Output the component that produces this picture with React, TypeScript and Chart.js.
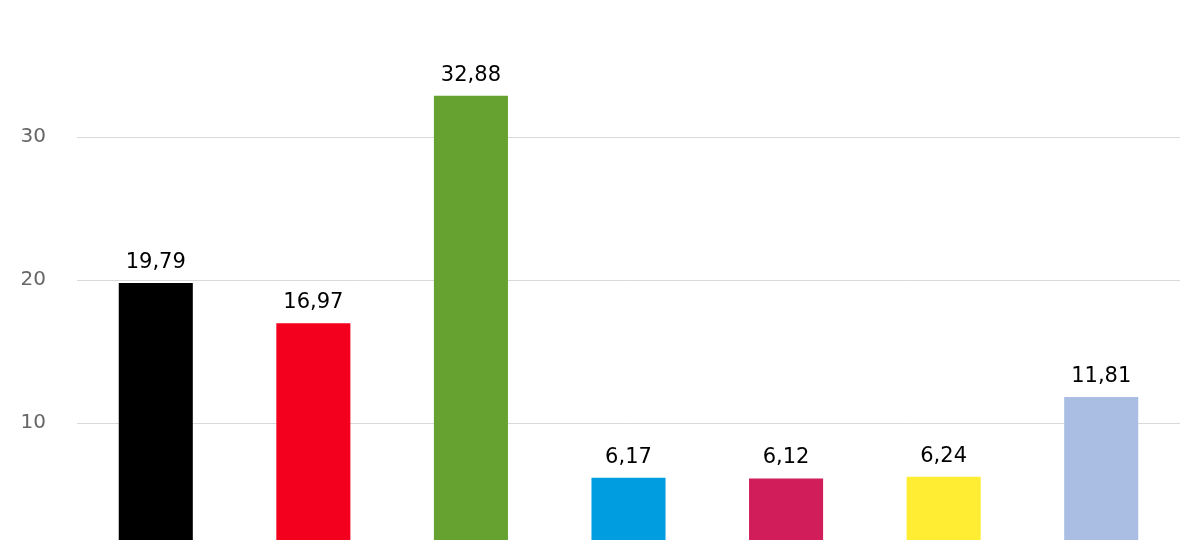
import React, { useEffect, useRef } from "react";
import { Chart, registerables } from "chart.js";

Chart.register(...registerables);

const categories = ["CDU", "SPD", "GRÜNE", "AfD", "DIE LINKE", "FDP", "Sonstige"];
const values = [19.79, 16.97, 32.88, 6.17, 6.12, 6.24, 11.81];
const barColors = ["#000000", "#f2001e", "#66a230", "#009ee0", "#d11e5a", "#ffed33", "#aabde3"];
const yTicks = [0, 10, 20, 30, 40];

const valueLabels = {
  id: "valueLabels",
  afterDatasetsDraw(chart: any) {
    const { ctx } = chart;
    const meta = chart.getDatasetMeta(0);
    ctx.save();
    ctx.font = "21px 'DejaVu Sans'";
    ctx.fillStyle = "#000000";
    ctx.textAlign = "center";
    ctx.textBaseline = "alphabetic";
    meta.data.forEach((bar: any, i: number) => {
      const v = chart.data.datasets[0].data[i] as number;
      ctx.fillText(v.toFixed(2).replace(".", ","), bar.x, bar.y - 15);
    });
    ctx.restore();
  },
};

export default function App() {
  const ref = useRef<HTMLCanvasElement | null>(null);
  useEffect(() => {
    if (!ref.current) return;
    const chart = new Chart(ref.current, {
      type: "bar",
      data: {
        labels: categories,
        datasets: [
          {
            data: values,
            backgroundColor: barColors,
            borderWidth: 0,
            barPercentage: 1,
            categoryPercentage: 0.47,
          },
        ],
      },
      options: {
        animation: false,
        responsive: true,
        maintainAspectRatio: false,
        layout: { padding: { top: 0, bottom: 0, left: 0, right: 20 } },
        plugins: { legend: { display: false }, tooltip: { enabled: false } },
        scales: {
          x: { display: false },
          y: {
            min: 0,
            max: 40,
            afterBuildTicks: (scale: any) => {
              scale.ticks = yTicks.map((v) => ({ value: v }));
            },
            afterFit: (scale: any) => {
              scale.width = 77;
            },
            border: { display: false },
            grid: { color: "#d9d9d9", lineWidth: 1, drawTicks: false },
            ticks: {
              color: "#666666",
              font: { family: "'DejaVu Sans'", size: 20 },
              padding: 31,
            },
          },
        },
      },
      plugins: [valueLabels],
    });
    return () => chart.destroy();
  }, []);
  return (
    <div style={{ position: "absolute", left: 0, top: -49, width: 1200, height: 658 }}>
      <canvas ref={ref} />
    </div>
  );
}
